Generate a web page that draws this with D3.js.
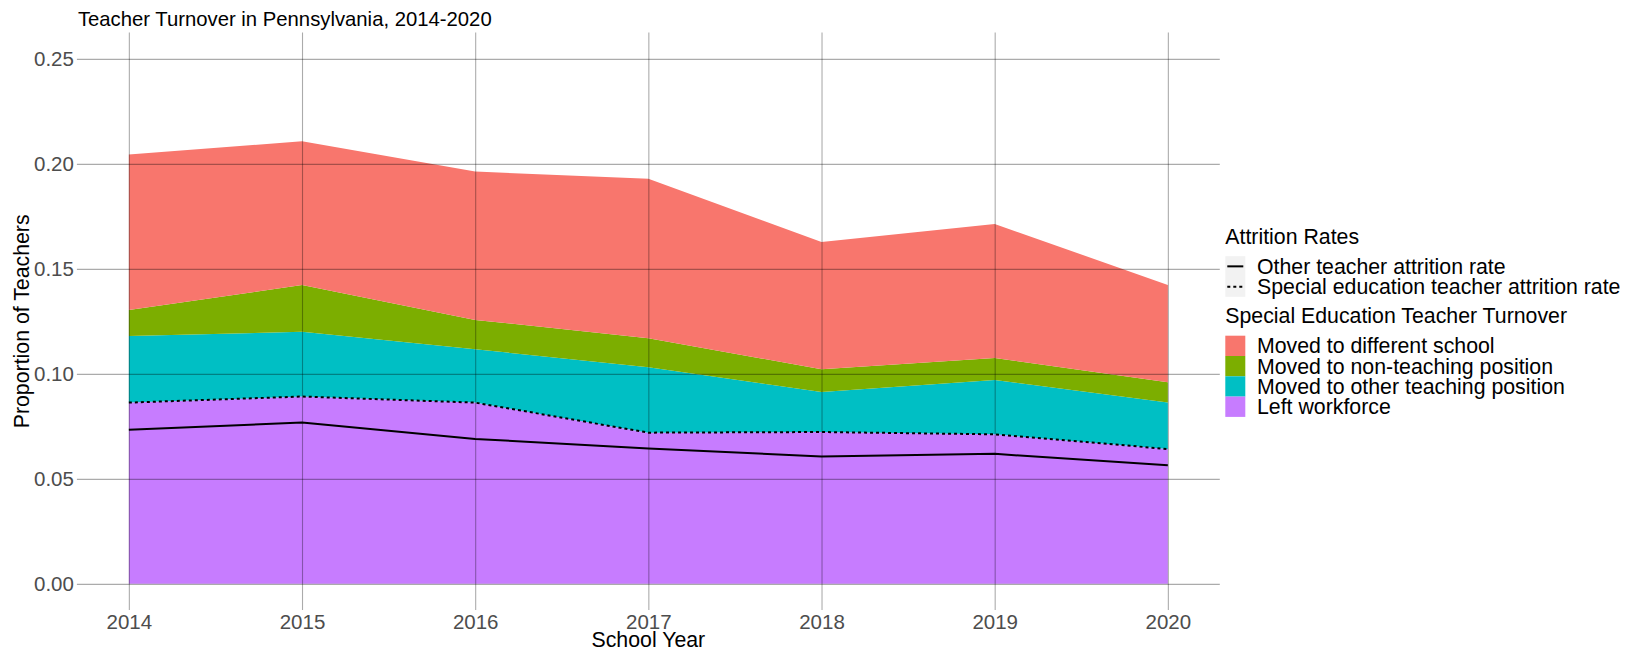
<!DOCTYPE html>
<html>
<head>
<meta charset="utf-8">
<script src="https://cdn.jsdelivr.net/npm/d3@7"></script>
<style>
  html, body { margin: 0; padding: 0; background: #fff; }
  svg { display: block; font-family: "Liberation Sans", Arial, sans-serif; }
</style>
</head>
<body>
<svg id="chart" width="1629" height="652"></svg>
<script>
// ---- data ----
const years = [2014, 2015, 2016, 2017, 2018, 2019, 2020];
const leftWorkforce      = [0.0863, 0.0892, 0.0863, 0.0720, 0.0723, 0.0712, 0.0642];
const otherTeaching      = [0.0317, 0.0308, 0.0254, 0.0312, 0.0191, 0.0259, 0.0221];
const nonTeaching        = [0.0124, 0.0223, 0.0140, 0.0138, 0.0108, 0.0105, 0.0097];
const differentSchool    = [0.0740, 0.0685, 0.0706, 0.0759, 0.0606, 0.0638, 0.0463];
const spedAttrition      = [0.0863, 0.0892, 0.0863, 0.0720, 0.0723, 0.0712, 0.0642];
const otherAttrition     = [0.0734, 0.0768, 0.0690, 0.0645, 0.0606, 0.0619, 0.0565];
const yTicks = [0, 0.05, 0.10, 0.15, 0.20, 0.25];
const turnoverLabels = ["Moved to different school", "Moved to non-teaching position", "Moved to other teaching position", "Left workforce"];
const turnoverColors = ["#F8766D", "#7CAE00", "#00BFC4", "#C77CFF"];
const attritionLabels = ["Other teacher attrition rate", "Special education teacher attrition rate"];

const table = years.map((y, i) => ({
  year: y,
  left: leftWorkforce[i],
  other: otherTeaching[i],
  nonteach: nonTeaching[i],
  diff: differentSchool[i],
  sped: spedAttrition[i],
  oth: otherAttrition[i]
}));
const keys = ["left", "other", "nonteach", "diff"];
const colorByKey = { left: turnoverColors[3], other: turnoverColors[2], nonteach: turnoverColors[1], diff: turnoverColors[0] };

// ---- layout ----
const svg = d3.select("#chart");
const P = { left: 76.9, right: 1219.8, top: 32.6, bottom: 610.1 };
const x = d3.scaleLinear().domain([2013.7, 2020.3]).range([P.left, P.right]);
const y = d3.scaleLinear().domain([-0.0125, 0.2625]).range([P.bottom, P.top]);
const tickFont = "20.5px";
const textFont = "21.3px";

// areas
const stack = d3.stack().keys(keys);
const series = stack(table);
const area = d3.area()
  .x(d => x(d.data.year))
  .y0(d => y(d[0]))
  .y1(d => y(d[1]));
svg.append("g").selectAll("path").data(series).join("path")
  .attr("d", area)
  .attr("fill", d => colorByKey[d.key]);

// gridlines on top
const gridColor = "rgba(0,0,0,0.33)";
const gy = svg.append("g")
  .attr("transform", `translate(${P.left},0)`)
  .call(d3.axisLeft(y).tickValues(yTicks).tickSize(-(P.right - P.left)).tickFormat(""));
gy.select(".domain").remove();
gy.selectAll("line").attr("stroke", gridColor).attr("stroke-width", 1.1);

const gx = svg.append("g")
  .attr("transform", `translate(0,${P.bottom})`)
  .call(d3.axisBottom(x).tickValues(years).tickSize(-(P.bottom - P.top)).tickFormat(""));
gx.select(".domain").remove();
gx.selectAll("line").attr("stroke", gridColor).attr("stroke-width", 1.1);

// lines
const lineSped = d3.line().x(d => x(d.year)).y(d => y(d.sped));
const lineOther = d3.line().x(d => x(d.year)).y(d => y(d.oth));
svg.append("path").datum(table).attr("d", lineOther)
  .attr("fill", "none").attr("stroke", "#000").attr("stroke-width", 2);
svg.append("path").datum(table).attr("d", lineSped)
  .attr("fill", "none").attr("stroke", "#000").attr("stroke-width", 2)
  .attr("stroke-dasharray", "3,3");

// axes labels
const ay = svg.append("g")
  .attr("transform", `translate(${P.left},0)`)
  .call(d3.axisLeft(y).tickValues(yTicks).tickSize(0).tickPadding(3).tickFormat(d3.format(".2f")));
ay.select(".domain").remove();
ay.selectAll("text").attr("fill", "#4D4D4D").style("font-size", tickFont).style("font-family", "Liberation Sans, Arial, sans-serif");

const ax = svg.append("g")
  .attr("transform", `translate(0,${P.bottom})`)
  .call(d3.axisBottom(x).tickValues(years).tickSize(0).tickPadding(4).tickFormat(d3.format("d")));
ax.select(".domain").remove();
ax.selectAll("text").attr("fill", "#4D4D4D").style("font-size", tickFont).style("font-family", "Liberation Sans, Arial, sans-serif");

// titles
svg.append("text").attr("x", P.left + 1).attr("y", 26)
  .style("font-size", "20.3px").attr("fill", "#000")
  .text("Teacher Turnover in Pennsylvania, 2014-2020");
svg.append("text").attr("x", (P.left + P.right) / 2).attr("y", 647)
  .attr("text-anchor", "middle").style("font-size", textFont).attr("fill", "#000")
  .text("School Year");
svg.append("text")
  .attr("transform", `translate(29,${(P.top + P.bottom) / 2}) rotate(-90)`)
  .attr("text-anchor", "middle").style("font-size", textFont).attr("fill", "#000")
  .text("Proportion of Teachers");

// legend
const LX = 1225.3, keyW = 20, keyH = 20.3, textX = 1257;
const lg = svg.append("g");
lg.append("text").attr("x", LX).attr("y", 244).style("font-size", textFont).text("Attrition Rates");
lg.append("rect").attr("x", LX).attr("y", 256.2).attr("width", keyW).attr("height", keyH * 2).attr("fill", "#F2F2F2");
attritionLabels.forEach((lab, i) => {
  const cy = 256.2 + keyH * i + keyH / 2;
  lg.append("line").attr("x1", LX + 2).attr("x2", LX + keyW - 2).attr("y1", cy).attr("y2", cy)
    .attr("stroke", "#000").attr("stroke-width", 2)
    .attr("stroke-dasharray", i === 1 ? "3,3" : null);
  lg.append("text").attr("x", textX).attr("y", cy + 7.4).style("font-size", textFont).text(lab);
});
lg.append("text").attr("x", LX).attr("y", 323).style("font-size", textFont).text("Special Education Teacher Turnover");
turnoverLabels.forEach((lab, i) => {
  const ty = 335.7 + keyH * i;
  lg.append("rect").attr("x", LX).attr("y", ty).attr("width", keyW).attr("height", keyH).attr("fill", turnoverColors[i]);
  lg.append("text").attr("x", textX).attr("y", ty + keyH / 2 + 7.4).style("font-size", textFont).text(lab);
});
</script>
</body>
</html>
